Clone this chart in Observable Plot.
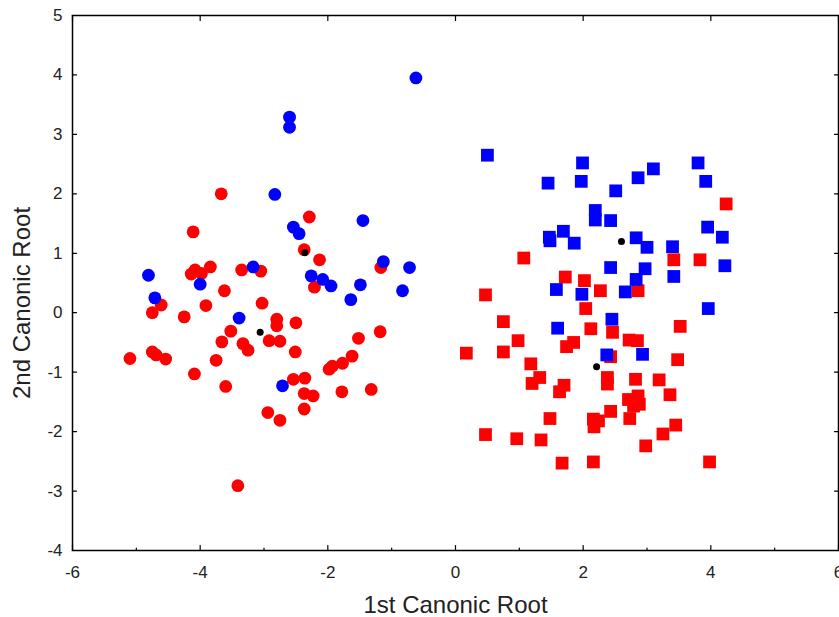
<!DOCTYPE html>
<html>
<head>
<meta charset="utf-8">
<script src="https://cdn.jsdelivr.net/npm/d3@7"></script>
<script src="https://cdn.jsdelivr.net/npm/@observablehq/plot@0.6"></script>
<style>
  html, body { margin: 0; padding: 0; overflow: hidden; background: white; }
  #chart svg { display: block; }
</style>
</head>
<body>
<div id="chart"></div>
<script>
// ---- data ----
const xDomain = [-6, 6];
const yDomain = [-4, 5];
const xMajorTicks = [-6, -4, -2, 0, 2, 4, 6];
const xMinorTicks = [-5, -3, -1, 1, 3, 5];
const yTicks = [-4, -3, -2, -1, 0, 1, 2, 3, 4, 5];
const xTitle = "1st Canonic Root";
const yTitle = "2nd Canonic Root";

const redCircles = [
  [-3.67,2.0],[-4.11,1.36],[-4.14,0.65],[-4.08,0.72],[-3.98,0.66],[-3.84,0.77],[-3.35,0.72],[-3.05,0.70],
  [-3.62,0.37],[-4.61,0.13],[-4.75,0.0],[-3.91,0.12],[-4.25,-0.07],[-3.03,0.16],[-3.52,-0.31],[-3.66,-0.49],
  [-3.33,-0.52],[-3.25,-0.63],[-5.1,-0.77],[-4.75,-0.66],[-4.69,-0.71],[-4.54,-0.78],[-3.75,-0.8],[-4.09,-1.03],
  [-3.6,-1.24],[-3.41,-2.91],
  [-2.29,1.61],[-2.37,1.06],[-2.13,0.89],[-1.17,0.76],[-2.21,0.43],[-2.8,-0.11],[-2.8,-0.22],[-2.5,-0.17],
  [-2.92,-0.47],[-2.75,-0.48],[-2.51,-0.66],[-1.52,-0.43],[-1.18,-0.32],[-1.62,-0.73],[-1.77,-0.85],[-1.93,-0.9],
  [-1.98,-0.95],[-2.54,-1.12],[-2.36,-1.1],[-2.37,-1.36],[-2.23,-1.4],[-1.78,-1.33],[-1.32,-1.29],[-2.37,-1.62],
  [-2.94,-1.68],[-2.75,-1.81]
];
const blueCircles = [
  [-4.81,0.63],[-4.71,0.25],[-4.0,0.48],[-3.17,0.77],[-3.39,-0.09],[-0.62,3.95],[-2.6,3.29],[-2.6,3.12],
  [-2.83,1.99],[-1.45,1.55],[-2.54,1.44],[-2.45,1.33],[-1.13,0.86],[-0.72,0.76],[-2.26,0.62],[-2.08,0.56],
  [-1.95,0.45],[-1.49,0.47],[-1.64,0.22],[-0.83,0.37],[-2.71,-1.23]
];
const redSquares = [
  [1.07,0.92],[1.72,0.6],[2.02,0.54],[0.47,0.3],[2.04,0.07],[0.75,-0.15],[2.12,-0.27],[0.98,-0.47],
  [0.17,-0.68],[0.75,-0.66],[1.74,-0.57],[1.85,-0.5],[1.18,-0.86],[1.32,-1.09],[1.2,-1.19],[1.7,-1.22],
  [1.63,-1.33],[1.48,-1.78],[0.47,-2.05],[0.96,-2.12],[1.34,-2.14],[1.67,-2.53],
  [4.24,1.83],[3.42,0.89],[3.83,0.89],[2.27,0.37],[2.86,0.37],[2.46,-0.33],[3.52,-0.23],[2.72,-0.46],
  [2.85,-0.47],[2.43,-0.74],[3.48,-0.79],[2.38,-1.09],[2.38,-1.2],[2.82,-1.12],[3.19,-1.13],[3.36,-1.38],
  [2.71,-1.46],[2.86,-1.4],[2.79,-1.57],[2.88,-1.54],[2.43,-1.66],[2.16,-1.79],[2.24,-1.82],[2.17,-1.92],
  [2.73,-1.78],[3.45,-1.89],[3.25,-2.04],[2.98,-2.24],[2.16,-2.51],[3.98,-2.51]
];
const blueSquares = [
  [0.5,2.65],[1.99,2.52],[1.45,2.18],[1.97,2.21],[1.48,1.21],[1.47,1.27],[1.69,1.37],[1.86,1.17],
  [1.58,0.39],[1.98,0.31],[1.6,-0.26],
  [3.8,2.52],[3.1,2.42],[2.86,2.27],[3.92,2.21],[2.51,2.05],[2.19,1.72],[2.19,1.56],[2.43,1.55],
  [3.95,1.44],[4.18,1.27],[2.83,1.26],[3.0,1.1],[3.4,1.11],[4.22,0.79],[2.43,0.76],[2.97,0.74],
  [2.83,0.56],[3.42,0.61],[2.66,0.35],[3.96,0.07],[2.45,-0.11],[2.93,-0.7],[2.37,-0.71]
];
const centroids = [[-3.06,-0.33],[-2.36,1.01],[2.6,1.2],[2.21,-0.91]];

// ---- styles ----
const RED = "#ff0000", BLUE = "#0000ff";
const tickShape = { draw(context, l) { context.moveTo(0, 0); context.lineTo(0, -l); } };
const tickStyle = { shape: tickShape, anchor: "start", stroke: "black", strokeWidth: 1.2 };
const fmt = d => String(d);

const chart = Plot.plot({
  width: 839,
  height: 617,
  marginLeft: 72,
  marginRight: 1,
  marginTop: 15,
  marginBottom: 67,
  style: { fontFamily: "'Liberation Sans', Arial, sans-serif", color: "#222", background: "white" },
  x: { domain: xDomain },
  y: { domain: yDomain },
  marks: [
    // points
    Plot.dot(redCircles, { x: d => d[0], y: d => d[1], r: 6.4, fill: RED, symbol: "circle" }),
    Plot.dot(redSquares, { x: d => d[0], y: d => d[1], r: 7.2, fill: RED, symbol: "square" }),
    Plot.dot(blueCircles, { x: d => d[0], y: d => d[1], r: 6.4, fill: BLUE, symbol: "circle" }),
    Plot.dot(blueSquares, { x: d => d[0], y: d => d[1], r: 7.2, fill: BLUE, symbol: "square" }),
    Plot.dot(centroids, { x: d => d[0], y: d => d[1], r: 3.5, fill: "black" }),
    // frame
    Plot.frame({ stroke: "black", strokeWidth: 1.5 }),
    // inward ticks
    Plot.vector(xMajorTicks, { x: d => d, y: yDomain[0], rotate: 0, length: 5, ...tickStyle }),
    Plot.vector(xMinorTicks, { x: d => d, y: yDomain[0], rotate: 0, length: 2.5, ...tickStyle }),
    Plot.vector(xMajorTicks, { x: d => d, y: yDomain[1], rotate: 180, length: 5, ...tickStyle }),
    Plot.vector(yTicks, { x: xDomain[0], y: d => d, rotate: 90, length: 4, ...tickStyle }),
    Plot.vector(yTicks, { x: xDomain[1], y: d => d, rotate: 270, length: 4, ...tickStyle }),
    // tick labels
    Plot.axisX(xMajorTicks, { tickSize: 0, tickPadding: 15, fontSize: 17, label: null, tickFormat: fmt }),
    Plot.axisY(yTicks, { tickSize: 0, tickPadding: 10, fontSize: 17, label: null, tickFormat: fmt }),
    // axis titles
    Plot.text([xTitle], { frameAnchor: "bottom", dy: 62, fontSize: 24, fill: "#222", textAnchor: "middle" }),
    Plot.text([yTitle], { frameAnchor: "left", dx: -50, dy: 20, rotate: -90, fontSize: 24, fill: "#222",
                          textAnchor: "middle", lineAnchor: "middle" })
  ]
});
document.getElementById("chart").appendChild(chart);
</script>
</body>
</html>
